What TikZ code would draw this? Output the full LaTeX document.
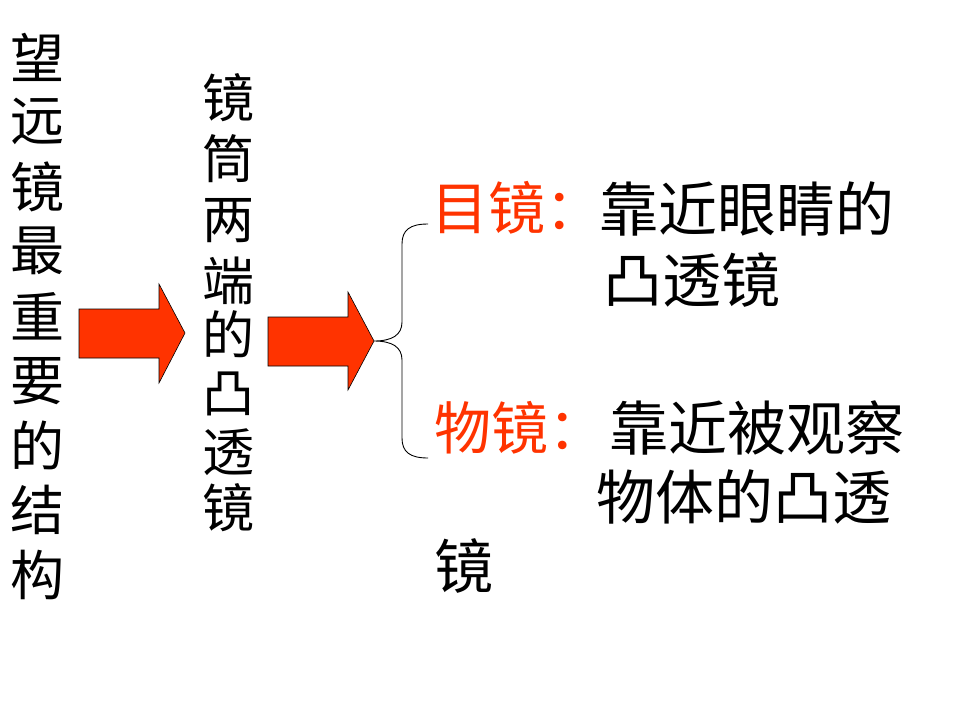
\documentclass[tikz,border=0pt]{standalone}
\usepackage{fontspec}
\setmainfont{Noto Sans CJK SC}
\definecolor{arrowred}{HTML}{FF3300}
\begin{document}
\begin{tikzpicture}[x=1pt,y=-1pt,
  colchar/.style={inner sep=0pt,font=\fontsize{54}{60}\selectfont},
  midchar/.style={inner sep=0pt,font=\fontsize{52}{58}\selectfont},
  rtext/.style={inner sep=0pt,anchor=west,font=\fontsize{59}{66}\selectfont},
  redtext/.style={inner sep=0pt,anchor=west,font=\fontsize{57}{64}\selectfont,text=arrowred},
  bigarrow/.style={fill=arrowred,draw=black,line width=0.6pt,line join=miter},
  bracestyle/.style={draw=black,line width=0.9pt}]
\useasboundingbox (0,0) rectangle (960,720);
% left column
\foreach \c [count=\i] in {望,远,镜,最,重,要,的,结,构}
  \node[colchar,name=L\i] at (37,{57+64.75*(\i-1)}) {\c};
% middle column
\foreach \c/\y [count=\i] in {镜/98,筒/159,两/221,端/281,的/334,凸/394,透/452,镜/508}
  \node[midchar,name=M\i] at (228,\y) {\c};
% arrows
\coordinate (a1tip) at (185,333);
\coordinate (a2tip) at (374,341);
\draw[bigarrow] (79,309) -- (159,309) -- (159,284) -- (a1tip) -- (159,383) -- (159,358) -- (79,358) -- cycle;
\draw[bigarrow] (268,317) -- (348,317) -- (348,292) -- (a2tip) -- (348,390) -- (348,366) -- (268,366) -- cycle;
% brace
\coordinate (btop) at (428,224);
\coordinate (bbot) at (428,458);
\draw[bracestyle] (btop) .. controls (410,224) and (402,230) .. (402,244) -- (402,322)
  .. controls (402,335) and (392,341) .. (a2tip)
  .. controls (392,341) and (402,347) .. (402,360) -- (402,438)
  .. controls (402,452) and (410,458) .. (bbot);
% right texts
\node[redtext,name=mu] at (431,208) {目镜：};
\node[rtext,name=mu1] at (599,209) {靠近眼睛的};
\node[rtext,name=mu2] at (603,280) {凸透镜};
\node[redtext,name=wu] at (434,428) {物镜：};
\node[rtext,name=wu1] at (609,428) {靠近被观察};
\node[rtext,name=wu2] at (596,497) {物体的凸透};
\node[rtext,name=wu3] at (434,566) {镜};
\end{tikzpicture}
\end{document}
